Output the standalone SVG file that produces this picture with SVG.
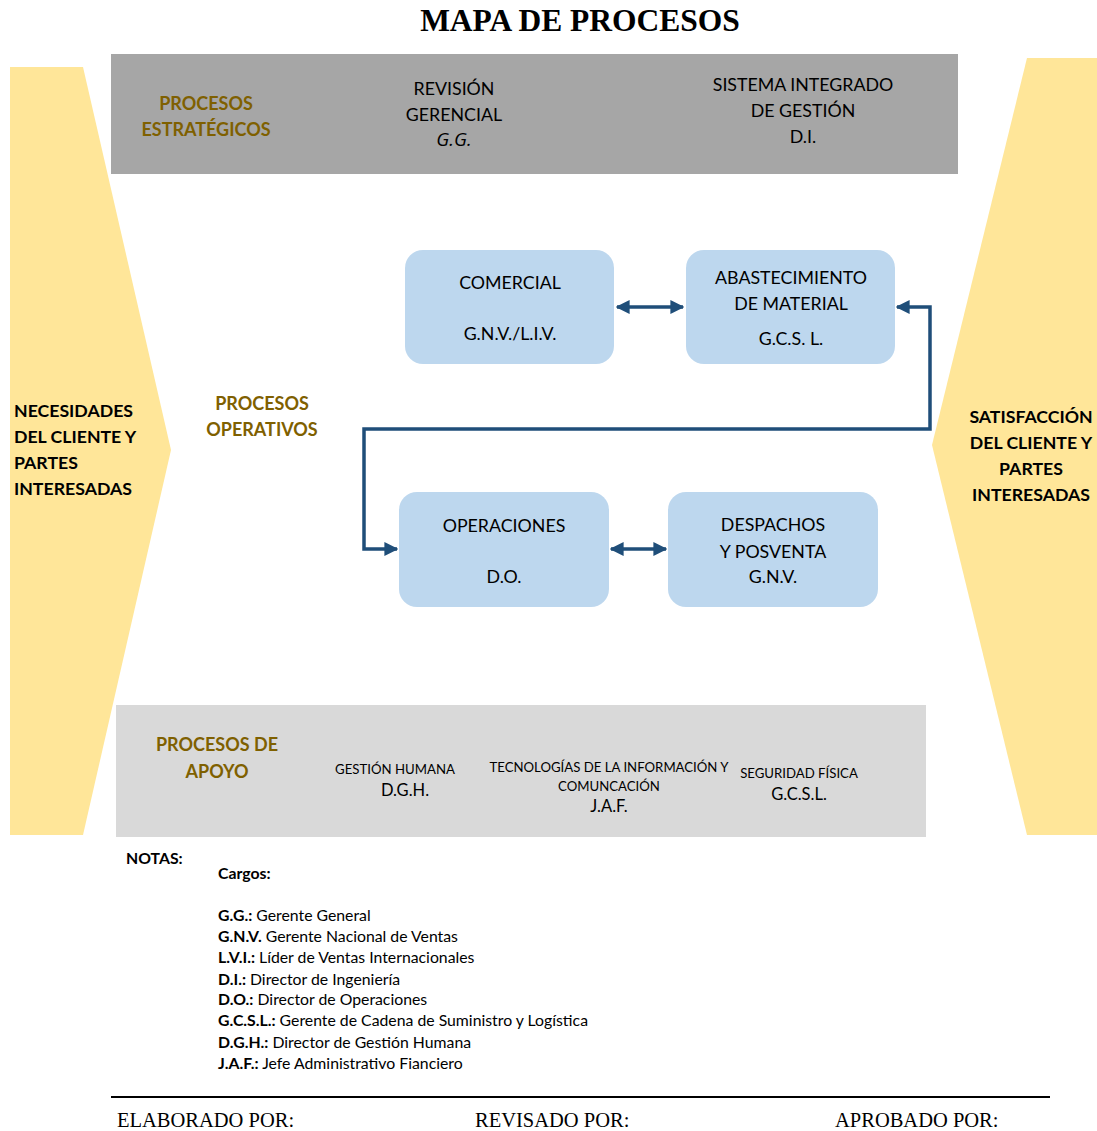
<svg xmlns="http://www.w3.org/2000/svg" width="1097" height="1131" viewBox="0 0 1097 1131">
<defs>
<style>
.t{font-family:"Liberation Serif","Times New Roman",serif;}
.hd{font-family:Lato,"Liberation Sans",sans-serif;font-weight:bold;font-size:18px;fill:#7f6000;text-anchor:middle;}
.sd{font-family:Lato,"Liberation Sans",sans-serif;font-weight:bold;font-size:17.7px;fill:#000;}
.nt{font-family:Lato,"Liberation Sans",sans-serif;font-size:17.8px;fill:#000;text-anchor:middle;}
.node{fill:#bdd7ee;}
.sm{font-family:Lato,"Liberation Sans",sans-serif;font-size:13.2px;fill:#000;text-anchor:middle;}
.md{font-family:Lato,"Liberation Sans",sans-serif;font-size:16.5px;fill:#000;text-anchor:middle;}
.n{font-family:Lato,"Liberation Sans",sans-serif;font-size:15.8px;fill:#000;}
.ft{font-family:"Liberation Serif","Times New Roman",serif;font-size:20.5px;fill:#000;}
.conn{fill:none;stroke:#1f4e79;stroke-width:3.5;}
</style>
<marker id="ah" viewBox="0 0 10 10" refX="9" refY="5" markerWidth="4" markerHeight="4" orient="auto-start-reverse" markerUnits="strokeWidth">
<path d="M0,0 L10,5 L0,10 z" fill="#1f4e79"/>
</marker>
</defs>
<rect width="1097" height="1131" fill="#fff"/>
<text x="580" y="31" class="t" font-size="31.5" font-weight="bold" text-anchor="middle">MAPA DE PROCESOS</text>

<g id="entrada">
<polygon points="10,67 83,67 171,450 83,835 10,835" fill="#ffe699"/>
<text class="sd"><tspan x="14" y="417">NECESIDADES</tspan><tspan x="14" y="443">DEL CLIENTE Y</tspan><tspan x="14" y="469">PARTES</tspan><tspan x="14" y="495">INTERESADAS</tspan></text>
</g>
<g id="salida">
<polygon points="1027,58 1097,58 1097,835 1027,835 932,445" fill="#ffe699"/>
<text class="sd" text-anchor="middle"><tspan x="1031" y="423">SATISFACCIÓN</tspan><tspan x="1031" y="449">DEL CLIENTE Y</tspan><tspan x="1031" y="475">PARTES</tspan><tspan x="1031" y="501">INTERESADAS</tspan></text>
</g>

<g id="estrategicos">
<rect x="111" y="54" width="847" height="120" fill="#a6a6a6"/>
<text class="hd"><tspan x="206" y="110">PROCESOS</tspan><tspan x="206" y="136">ESTRATÉGICOS</tspan></text>
<text class="nt"><tspan x="454" y="95">REVISIÓN</tspan><tspan x="454" y="121">GERENCIAL</tspan><tspan x="454" y="146" font-style="italic" font-family="'Open Sans','Liberation Sans',sans-serif" font-size="19">G.G.</tspan></text>
<text class="nt"><tspan x="803" y="91">SISTEMA INTEGRADO</tspan><tspan x="803" y="117">DE GESTIÓN</tspan><tspan x="803" y="143">D.I.</tspan></text>
</g>

<g id="operativos-label">
<text class="hd"><tspan x="262" y="410">PROCESOS</tspan><tspan x="262" y="436">OPERATIVOS</tspan></text>
</g>

<g id="comercial">
<rect class="node" x="405" y="250" width="209" height="114" rx="18"/>
<text class="nt"><tspan x="510" y="289">COMERCIAL</tspan><tspan x="510" y="340">G.N.V./L.I.V.</tspan></text>
</g>
<g id="abastecimiento">
<rect class="node" x="686" y="250" width="209" height="114" rx="18"/>
<text class="nt"><tspan x="791" y="284">ABASTECIMIENTO</tspan><tspan x="791" y="310">DE MATERIAL</tspan><tspan x="791" y="345">G.C.S. L.</tspan></text>
</g>
<g id="operaciones">
<rect class="node" x="399" y="492" width="210" height="115" rx="18"/>
<text class="nt"><tspan x="504" y="532">OPERACIONES</tspan><tspan x="504" y="583">D.O.</tspan></text>
</g>
<g id="despachos">
<rect class="node" x="668" y="492" width="210" height="115" rx="18"/>
<text class="nt"><tspan x="773" y="531">DESPACHOS</tspan><tspan x="773" y="558">Y POSVENTA</tspan><tspan x="773" y="583">G.N.V.</tspan></text>
</g>

<g id="connectors">
<line class="conn" x1="617" y1="307" x2="683" y2="307" marker-start="url(#ah)" marker-end="url(#ah)"/>
<line class="conn" x1="611" y1="549" x2="666" y2="549" marker-start="url(#ah)" marker-end="url(#ah)"/>
<polyline class="conn" points="897,307 930,307 930,429 364,429 364,549 397,549" marker-start="url(#ah)" marker-end="url(#ah)"/>
</g>

<g id="apoyo">
<rect x="116" y="705" width="810" height="132" fill="#d9d9d9"/>
<text class="hd"><tspan x="217" y="751">PROCESOS DE</tspan><tspan x="217" y="778">APOYO</tspan></text>
<text class="sm" x="395" y="774">GESTIÓN HUMANA</text>
<text class="md" x="405" y="796">D.G.H.</text>
<text class="sm" x="609" y="772">TECNOLOGÍAS  DE LA INFORMACIÓN Y</text>
<text class="sm" x="609" y="791">COMUNCACIÓN</text>
<text class="md" x="609" y="812">J.A.F.</text>
<text class="sm" x="799" y="778">SEGURIDAD  FÍSICA</text>
<text class="md" x="799" y="800">G.C.S.L.</text>
</g>

<g id="notas">
<text class="n" x="126" y="864" font-weight="bold" font-size="14.5">NOTAS:</text>
<text class="n" x="218" y="879" font-weight="bold" font-size="15">Cargos:</text>
<text class="n" x="218" y="921"><tspan font-weight="bold">G.G.:</tspan> Gerente General</text>
<text class="n" x="218" y="942"><tspan font-weight="bold">G.N.V.</tspan> Gerente Nacional de Ventas</text>
<text class="n" x="218" y="963"><tspan font-weight="bold">L.V.I.:</tspan> Líder de Ventas Internacionales</text>
<text class="n" x="218" y="985"><tspan font-weight="bold">D.I.:</tspan> Director de Ingeniería</text>
<text class="n" x="218" y="1005"><tspan font-weight="bold">D.O.:</tspan> Director de Operaciones</text>
<text class="n" x="218" y="1026"><tspan font-weight="bold">G.C.S.L.:</tspan> Gerente de Cadena de Suministro y Logística</text>
<text class="n" x="218" y="1048"><tspan font-weight="bold">D.G.H.:</tspan> Director de Gestión Humana</text>
<text class="n" x="218" y="1069"><tspan font-weight="bold">J.A.F.:</tspan> Jefe Administrativo Fianciero</text>
</g>

<g id="pie">
<line x1="111" y1="1097" x2="1050" y2="1097" stroke="#000" stroke-width="2"/>
<text class="ft" x="117" y="1127">ELABORADO POR:</text>
<text class="ft" x="475" y="1127">REVISADO POR:</text>
<text class="ft" x="835" y="1127">APROBADO POR:</text>
</g>
</svg>
